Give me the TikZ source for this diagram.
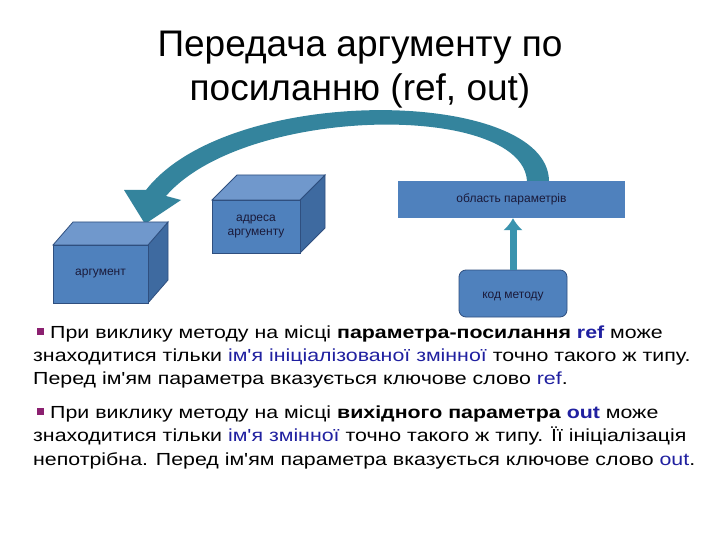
\documentclass[tikz,border=0pt]{standalone}
\usepackage{fontspec}
\setmainfont{Liberation Sans}
\newfontfamily\bodyfont[FakeStretch=1.22]{Liberation Sans}
\usetikzlibrary{arrows.meta}
\begin{document}
\begin{tikzpicture}[x=1pt,y=-1pt,
  front/.style={fill=boxblue,draw=boxedge,line width=0.8pt},
  side/.style={fill=boxside,draw=boxedge,line width=0.8pt},
  top/.style={fill=boxtop,draw=boxedge,line width=0.8pt},
  lbl/.style={font=\fontsize{12}{14}\selectfont,text=labtext,align=center},
  body/.style={anchor=base west,inner sep=0pt,font=\bodyfont\fontsize{17.5}{20}\selectfont},
  bul/.style={fill=bulcol,minimum size=7pt,inner sep=0pt}]
\definecolor{boxblue}{HTML}{4F81BD}
\definecolor{boxedge}{HTML}{2F4F7F}
\definecolor{boxside}{HTML}{3E6AA0}
\definecolor{boxtop}{HTML}{7098CC}
\definecolor{labtext}{HTML}{1A1A3A}
\definecolor{arrowcol}{HTML}{3A93AE}
\definecolor{bulcol}{HTML}{8B2070}
\definecolor{kw}{HTML}{2020A0}
\useasboundingbox (0,0) rectangle (720,540);
\fill[white] (0,0) rectangle (720,540);
% title
\node[font=\fontsize{37}{44}\selectfont,align=center] (title) at (360,70) {Передача аргументу по\\посиланню (ref, out)};
% big curved arrow
\fill[arrowcol!90!black] (549,181) .. controls (548,88) and (230,82) .. (146,190)
  -- (124,190) -- (145,224) -- (181,200) -- (166,196)
  .. controls (245,105) and (522,102) .. (527,181) -- cycle;
% argument cube
\draw[side] (148,245) -- (168,222) -- (168,280) -- (148,303) -- cycle;
\draw[top] (53,245) -- (73,222) -- (168,222) -- (148,245) -- cycle;
\node[front,minimum width=95pt,minimum height=58pt,inner sep=0pt] (arg) at (100.5,274) {};
\node[lbl] at (arg) {аргумент};
% address cube
\draw[side] (300,200) -- (325,175) -- (325,228) -- (300,253) -- cycle;
\draw[top] (212,200) -- (237,175) -- (325,175) -- (300,200) -- cycle;
\node[front,minimum width=88pt,minimum height=53pt,inner sep=0pt] (addr) at (256,226.5) {};
\node[lbl] at (addr) {адреса\\аргументу};
% parameter area
\node[fill=boxblue,minimum width=227pt,minimum height=37pt,inner sep=0pt,lbl] (par) at (511.5,199.5) {область параметрів};
% method code
\node[fill=boxblue,draw=boxedge,line width=0.8pt,rounded corners=7pt,minimum width=108pt,minimum height=47pt,inner sep=0pt,lbl] (code) at (513,293.5) {};
\node[lbl] at (513,297) {код методу};
\draw[arrowcol,line width=7pt,-{Latex[length=12pt,width=20pt]}] (code.north) -- (code.north |- par.south);
% text
\node[bul] (b1) at (40,331) {};
\node[body] (t1) at (50,338) {При виклику методу на місці \textbf{параметра-посилання} \textcolor{kw}{\textbf{ref}} може};
\node[body] (t2) at (33,361) {знаходитися тільки \textcolor{kw}{ім'я ініціалізованої змінної} точно такого ж типу.};
\node[body] (t3) at (33,384) {Перед ім'ям параметра вказується ключове слово \textcolor{kw}{ref}.};
\node[bul] (b2) at (40,411) {};
\node[body] (t4) at (50,418) {При виклику методу на місці \textbf{вихідного параметра} \textcolor{kw}{\textbf{out}} може};
\node[body] (t5) at (33,441) {знаходитися тільки \textcolor{kw}{ім'я змінної} точно такого ж типу. Її ініціалізація};
\node[body] (t6) at (33,465) {непотрібна. Перед ім'ям параметра вказується ключове слово \textcolor{kw}{out}.};
\end{tikzpicture}
\end{document}
